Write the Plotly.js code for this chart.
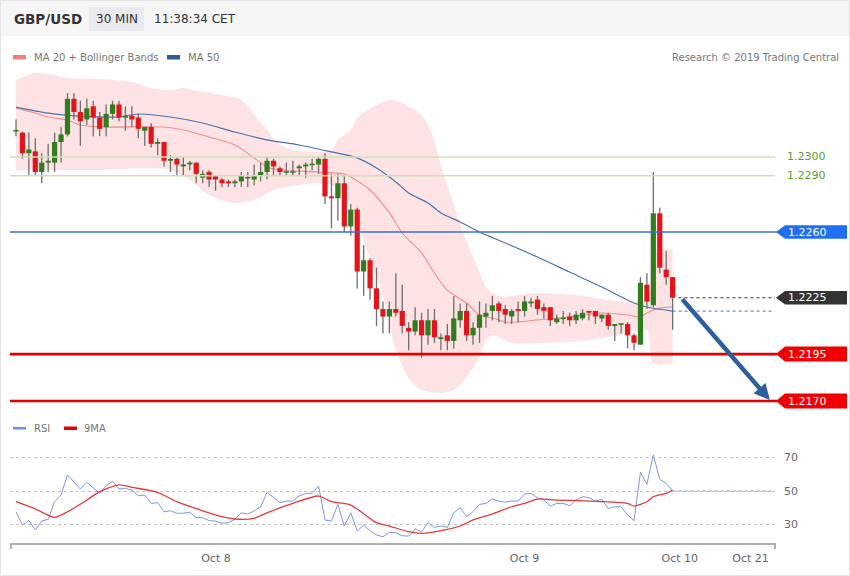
<!DOCTYPE html>
<html><head><meta charset="utf-8">
<script src="https://cdn.plot.ly/plotly-3.0.1.min.js"></script>
<style>html,body{margin:0;padding:0;background:#fff;}#chart{width:850px;height:576px;}</style>
</head><body><div id="chart"></div>
<script>
// ---------------- DATA ----------------
const openP  = [1.23138,1.2313,1.2302,1.2303,1.2292,1.2297,1.2297,1.2308,1.2312,1.2331,
1.2324,1.2320,1.2327,1.2321,1.2316,1.2323,1.2328,1.2321,1.2322,1.2321,
1.2314,1.2316,1.2307,1.2308,1.2298,1.2299,1.2295,1.2296,1.2297,1.2289,
1.2292,1.2290,1.2288,1.2287,1.2286,1.2287,1.2289,1.2288,1.2290,1.2292,
1.2298,1.2294,1.2292,1.2292,1.2294,1.2295,1.2296,1.2296,1.2299,1.2279,
1.2278,1.2286,1.2263,1.2272,1.2239,1.2245,1.2230,1.2219,1.2215,1.2219,
1.2218,1.2209,1.2207,1.2213,1.2205,1.2213,1.2203,1.2205,1.2202,1.2213,
1.2218,1.2205,1.2209,1.2215,1.2218,1.2222,1.2219,1.2215,1.2219,1.2218,
1.2222,1.2224,1.2220,1.2220,1.2212,1.2214,1.2215,1.2213,1.2214,1.2218,
1.2218,1.2214,1.2216,1.2210,1.2211,1.2211,1.2205,1.2200,1.2232,1.2221,
1.2270,1.2240,1.2236];
const highP  = [1.2320,1.23135,1.2313,1.2310,1.2302,1.2307,1.2313,1.2316,1.2334,1.2334,
1.2330,1.2331,1.2330,1.2324,1.2328,1.2330,1.2330,1.2327,1.2327,1.2323,
1.2316,1.2318,1.2310,1.2308,1.2301,1.2300,1.2300,1.2298,1.2297,1.2293,
1.2293,1.2290,1.2289,1.2288,1.2288,1.2292,1.2292,1.2296,1.2297,1.2300,
1.2299,1.2295,1.2297,1.2298,1.2296,1.2297,1.2299,1.2300,1.2302,1.2291,
1.2291,1.2290,1.2275,1.2273,1.2253,1.2246,1.2241,1.2223,1.2223,1.2238,
1.2232,1.2212,1.2220,1.2217,1.2219,1.2219,1.2206,1.2211,1.2226,1.2222,
1.2222,1.2212,1.2223,1.2222,1.2226,1.2223,1.2221,1.2219,1.2223,1.2226,
1.2225,1.2226,1.2222,1.2220,1.2216,1.2218,1.2217,1.2218,1.2219,1.2218,
1.2218,1.2216,1.2217,1.2211,1.2211,1.2212,1.2206,1.2236,1.2238,1.2292,
1.2273,1.2250,1.2236];
const lowP   = [1.2311,1.2299,1.2290,1.2290,1.2286,1.2292,1.2292,1.2297,1.2311,1.2320,
1.2306,1.2317,1.2311,1.2311,1.2311,1.2320,1.2319,1.2314,1.2316,1.2310,
1.2306,1.2305,1.2301,1.2295,1.2292,1.2290,1.2290,1.2293,1.2286,1.2286,
1.2284,1.2282,1.2284,1.2284,1.2284,1.2284,1.2284,1.2285,1.2287,1.2288,
1.2290,1.2290,1.2290,1.2290,1.2290,1.2289,1.2293,1.2291,1.2275,1.2262,
1.2266,1.2260,1.2258,1.2230,1.2226,1.2224,1.2210,1.2206,1.2206,1.2215,
1.2206,1.2197,1.2205,1.2193,1.2200,1.2201,1.2197,1.2197,1.2198,1.2209,
1.2202,1.2200,1.2201,1.2209,1.2213,1.2212,1.2211,1.2211,1.2212,1.2215,
1.2220,1.2216,1.2214,1.2210,1.2211,1.2211,1.2210,1.2211,1.2213,1.2213,
1.2211,1.2212,1.2208,1.2202,1.2206,1.2198,1.2197,1.2200,1.2219,1.2220,
1.2238,1.2232,1.2208];
const closeP = [1.23142,1.2302,1.2304,1.2292,1.2297,1.2298,1.2308,1.2312,1.2331,1.2324,
1.2319,1.2326,1.2321,1.2315,1.2323,1.2328,1.2321,1.2322,1.2320,1.2315,
1.2316,1.2307,1.2308,1.2298,1.2299,1.2296,1.2296,1.2297,1.2291,1.2291,
1.2288,1.2288,1.2286,1.2286,1.2287,1.2290,1.2289,1.2290,1.2292,1.2298,
1.2295,1.2292,1.2292,1.2292,1.2295,1.2296,1.2296,1.2299,1.2279,1.2278,
1.2286,1.2263,1.2272,1.2239,1.2245,1.2230,1.2219,1.2215,1.2219,1.2217,
1.2210,1.2207,1.2213,1.2205,1.2213,1.2204,1.2204,1.2202,1.2214,1.2218,
1.2205,1.2209,1.2216,1.2217,1.2221,1.2218,1.2216,1.2218,1.2218,1.2223,
1.2223,1.2219,1.2218,1.2213,1.2214,1.2214,1.2213,1.2216,1.2217,1.2217,
1.2215,1.2216,1.2210,1.2211,1.2211,1.2205,1.2201,1.2233,1.2223,1.2270,
1.2241,1.2236,1.2225];

const bbUpperIdx = [0,3,5,8,13,18,21,24,26,29,32,35,37,39,41,43,46,49,50,52,53,56,58,60,63,64,65,66,68,70,72,73,75,81,88,92,98,99,102];
const bbUpper    = [1.23410,1.23448,1.23442,1.23421,1.23416,1.23400,1.23368,1.23357,1.23368,1.23346,1.23330,1.23304,1.23224,1.23144,1.23064,1.23037,1.23027,1.23037,1.23091,1.23144,1.23208,1.23277,1.23304,1.23288,1.23224,1.23171,1.23080,1.22957,1.22744,1.22547,1.22387,1.22307,1.22259,1.22275,1.22259,1.22238,1.22238,1.22504,1.22504];
const bbLowerIdx = [0,7,13,21,24,27,30,34,37,40,44,47,49,52,54,55,57,59,61,63,66,68,70,72,73,74,77,81,86,91,95,98,99,102];
const bbLower    = [1.22931,1.22931,1.22931,1.22941,1.22931,1.22877,1.22798,1.22755,1.22771,1.22824,1.22851,1.22861,1.22851,1.22744,1.22558,1.22462,1.22265,1.21972,1.21823,1.21759,1.21743,1.21759,1.21828,1.21934,1.22025,1.22052,1.22009,1.22009,1.22014,1.22036,1.22062,1.22078,1.21902,1.21902];

const ma20Idx = [0,3,5,8,10,13,23,26,30,34,37,39,41,47,51,52,55,58,60,63,65,67,70,72,74,76,78,81,86,91,95,97,98,100,102];
const ma20    = [1.23261,1.23234,1.23213,1.23197,1.23170,1.23160,1.23160,1.23144,1.23107,1.23064,1.22995,1.22947,1.22931,1.22920,1.22909,1.22893,1.22824,1.22702,1.22595,1.22489,1.22382,1.22291,1.22222,1.22158,1.22142,1.22121,1.22121,1.22132,1.22148,1.22169,1.22158,1.22148,1.22169,1.22195,1.22201];

const ma50Idx = [0,5,10,16,19,24,29,34,39,44,49,53,56,59,61,64,66,69,72,76,81,86,91,96,98,102];
const ma50    = [1.23266,1.23234,1.23218,1.23213,1.23229,1.23213,1.23181,1.23133,1.23091,1.23064,1.23027,1.22995,1.22941,1.22867,1.22808,1.22755,1.22702,1.22654,1.22600,1.22542,1.22467,1.22387,1.22307,1.22222,1.22201,1.22179];

const rsi = [37.6,29.7,32.3,26.7,32.1,33.1,43.6,47.6,59.6,55.6,
51.2,55.2,51.6,48.6,53.2,55.8,51.2,51.6,50.6,47.2,
47.6,42.6,43.0,37.6,38.2,36.7,36.7,37.3,34.1,34.1,
32.3,32.1,30.7,31.1,33.1,37.0,36.3,38.1,40.6,49.2,
46.2,43.0,44.0,44.0,47.0,48.6,48.6,53.0,32.7,32.1,
42.0,29.1,37.0,26.1,29.7,26.3,23.7,22.7,25.3,25.1,
23.3,23.1,27.3,25.7,31.1,28.3,29.1,28.3,37.0,40.0,
34.7,37.6,42.0,42.6,45.2,44.0,43.3,44.0,44.0,48.2,
48.6,46.0,44.6,41.0,42.6,42.6,41.2,44.6,46.6,46.0,
44.0,45.0,39.6,40.6,40.6,35.7,32.3,61.2,54.0,71.5,
57.0,54.6,50.0];
const ma9Idx = [0,3,6,8,11,13,16,18,22,25,29,32,34,37,39,43,47,49,52,56,58,61,63,67,69,71,74,77,79,81,84,89,95,96,98,99,101,102];
const rsiMa9 = [43.6,39.3,34.3,37.6,44.6,49.6,53.6,52.2,49.2,43.6,38.2,34.7,33.3,33.7,37.0,42.6,47.0,43.6,41.6,31.1,29.1,25.7,24.7,27.1,29.1,32.7,36.3,40.6,42.6,45.2,44.6,44.0,42.6,41.0,43.6,46.6,48.6,50.6];

const tickPos    = [31.06, 79.0, 103.1, 114.1];
const tickLabels = ['Oct 8','Oct 9','Oct 10','Oct 21'];

const levelValues = [1.2300, 1.2290, 1.2260, 1.2225, 1.2195, 1.2170];
const levelLabels = ['1.2300','1.2290','1.2260','1.2225','1.2195','1.2170'];
const levelKinds  = ['resist','resist','pivot','last','support','support'];

// ---------------- LAYOUT HELPERS ----------------
const W = 850, H = 576;
const px = x => x / W;
const py = y => 1 - y / H;
const FONT = 'DejaVu Sans, sans-serif';
const xRange = [-0.93, 117.9];
const idx = openP.map((_, i) => i);
const lastI = idx[idx.length - 1];
const pricePerPx = 1 / 18770;

// wicks
const wx = [], wy = [];
idx.forEach(i => { wx.push(i, i, null); wy.push(lowP[i], highP[i], null); });
// bodies (drawn as thick vertical segments so they sit above the band fill)
const minBody = 1.6 * pricePerPx;
const upX = [], upY = [], dnX = [], dnY = [];
idx.forEach(i => {
  const o = openP[i], c = closeP[i];
  let lo = Math.min(o, c), hi = Math.max(o, c);
  if (hi - lo < minBody) { const m = (o + c) / 2; lo = m - minBody / 2; hi = m + minBody / 2; }
  if (c >= o) { upX.push(i, i, null); upY.push(lo, hi, null); }
  else { dnX.push(i, i, null); dnY.push(lo, hi, null); }
});

const traces = [
  {x: bbLowerIdx, y: bbLower, type: 'scatter', mode: 'lines', line: {width: 0, shape: 'spline', smoothing: 0.8}, hoverinfo: 'skip', showlegend: false},
  {x: bbUpperIdx, y: bbUpper, type: 'scatter', mode: 'lines', line: {width: 0, shape: 'spline', smoothing: 0.8}, fill: 'tonexty', fillcolor: '#fde3e3', hoverinfo: 'skip', showlegend: false},
  {x: ma20Idx, y: ma20, type: 'scatter', mode: 'lines', line: {color: '#f28c8c', width: 1.1, shape: 'spline', smoothing: 0.8}, showlegend: false},
  {x: ma50Idx, y: ma50, type: 'scatter', mode: 'lines', line: {color: '#4a72ad', width: 1.2, shape: 'spline', smoothing: 0.8}, showlegend: false},
  {x: wx, y: wy, type: 'scatter', mode: 'lines', line: {color: '#6e6e6e', width: 1.3}, connectgaps: false, showlegend: false},
  {x: upX, y: upY, type: 'scatter', mode: 'lines', line: {color: '#2f7d1f', width: 5.2}, connectgaps: false, showlegend: false},
  {x: dnX, y: dnY, type: 'scatter', mode: 'lines', line: {color: '#e3151b', width: 5.2}, connectgaps: false, showlegend: false},
  {x: idx, y: rsi, xaxis: 'x2', yaxis: 'y2', type: 'scatter', mode: 'lines', line: {color: '#7f97dc', width: 1}, showlegend: false},
  {x: ma9Idx, y: rsiMa9, xaxis: 'x2', yaxis: 'y2', type: 'scatter', mode: 'lines', line: {color: '#e23b3b', width: 1.3, shape: 'spline', smoothing: 0.7}, showlegend: false}
];

const shapes = [];
const ann = [];
// header
shapes.push({type: 'rect', xref: 'paper', yref: 'paper', x0: 0, x1: 1, y0: py(36), y1: 1, fillcolor: '#f6f6f7', line: {width: 0}, layer: 'below'});
shapes.push({type: 'rect', xref: 'paper', yref: 'paper', x0: px(89), x1: px(144), y0: py(31), y1: py(7), fillcolor: '#e9eaed', line: {width: 0}, layer: 'below'});
shapes.push({type: 'rect', xref: 'paper', yref: 'paper', x0: px(0.5), x1: px(849.5), y0: py(575.5), y1: py(0.5), line: {color: '#e4e4e4', width: 1}});
// legends
shapes.push({type: 'rect', xref: 'paper', yref: 'paper', x0: px(13), x1: px(26), y0: py(59.5), y1: py(55), fillcolor: '#f27f7f', line: {width: 0}});
shapes.push({type: 'rect', xref: 'paper', yref: 'paper', x0: px(167), x1: px(180), y0: py(59.5), y1: py(55), fillcolor: '#2f5a98', line: {width: 0}});
shapes.push({type: 'rect', xref: 'paper', yref: 'paper', x0: px(13), x1: px(26), y0: py(429.5), y1: py(427), fillcolor: '#6f8fe0', line: {width: 0}});
shapes.push({type: 'rect', xref: 'paper', yref: 'paper', x0: px(64), x1: px(77), y0: py(430), y1: py(426.5), fillcolor: '#e80000', line: {width: 0}});

// level lines + labels
const xL = px(10), xE = px(775);
levelValues.forEach((lv, k) => {
  const kind = levelKinds[k];
  let h = 6.7 * pricePerPx;
  if (kind === 'resist') {
    shapes.push({type: 'line', xref: 'paper', yref: 'y', x0: xL, x1: xE, y0: lv, y1: lv, line: {color: '#c9e2b8', width: 1.6}});
    ann.push({xref: 'paper', yref: 'y', x: px(785), y: lv, text: levelLabels[k], showarrow: false, xanchor: 'left', yanchor: 'middle', font: {family: FONT, size: 11, color: '#5b9e33'}});
    return;
  }
  let fill = '#1f6ff0';
  if (kind === 'pivot') {
    shapes.push({type: 'line', xref: 'paper', yref: 'y', x0: xL, x1: px(777), y0: lv, y1: lv, line: {color: '#3a6fd6', width: 1.5}});
  } else if (kind === 'last') {
    fill = '#333333';
    shapes.push({type: 'line', xref: 'x', yref: 'y', x0: lastI + 0.9, x1: xRange[1], y0: lv, y1: lv, line: {color: '#333', width: 1, dash: 'dot'}});
  } else {
    fill = '#f00000'; h = 7.5 * pricePerPx;
    shapes.push({type: 'line', xref: 'paper', yref: 'y', x0: xL, x1: px(777), y0: lv, y1: lv, line: {color: '#e80000', width: 2.6}});
  }
  const a = px(776), b = px(785), c = px(847);
  shapes.push({type: 'path', xref: 'paper', yref: 'y', path: `M ${a},${lv} L ${b},${lv + h} L ${c},${lv + h} L ${c},${lv - h} L ${b},${lv - h} Z`, fillcolor: fill, line: {width: 0}});
  ann.push({xref: 'paper', yref: 'y', x: px(786), y: lv, text: levelLabels[k], showarrow: false, xanchor: 'left', yanchor: 'middle', font: {family: FONT, size: 11, color: '#ffffff'}});
});
// MA50 dotted continuation
shapes.push({type: 'line', xref: 'x', yref: 'y', x0: lastI, x1: xRange[1], y0: ma50[ma50.length - 1], y1: ma50[ma50.length - 1], line: {color: '#4a72ad', width: 1, dash: 'dot'}});
// RSI dotted continuation
shapes.push({type: 'line', xref: 'x2', yref: 'y2', x0: lastI, x1: xRange[1], y0: rsi[rsi.length - 1], y1: rsi[rsi.length - 1], line: {color: '#7f97dc', width: 1.2, dash: 'dot'}});
// axis end ticks
shapes.push({type: 'line', xref: 'paper', yref: 'paper', x0: px(11), x1: px(11), y0: py(543), y1: py(549), line: {color: '#b0b0b0', width: 2}});
shapes.push({type: 'line', xref: 'paper', yref: 'paper', x0: px(775), x1: px(775), y0: py(543), y1: py(549), line: {color: '#b0b0b0', width: 2}});

// forecast arrow
ann.push({xref: 'x', yref: 'y', axref: 'x', ayref: 'y', x: xRange[1] - 0.8, y: levelValues[5] + 0.00005, ax: lastI + 1.3, ay: closeP[lastI], text: '', showarrow: true, arrowhead: 2, arrowsize: 0.7, arrowwidth: 4.5, arrowcolor: '#2d5e9f'});

// texts
ann.push({xref: 'paper', yref: 'paper', x: px(12), y: py(19), text: '<b>GBP/USD</b>', showarrow: false, xanchor: 'left', yanchor: 'middle', font: {family: FONT, size: 13.5, color: '#333'}});
ann.push({xref: 'paper', yref: 'paper', x: px(116.5), y: py(19), text: '30 MIN', showarrow: false, xanchor: 'center', yanchor: 'middle', font: {family: FONT, size: 12, color: '#333'}});
ann.push({xref: 'paper', yref: 'paper', x: px(152), y: py(19), text: '11:38:34 CET', showarrow: false, xanchor: 'left', yanchor: 'middle', font: {family: FONT, size: 12, color: '#333'}});
ann.push({xref: 'paper', yref: 'paper', x: px(32), y: py(57.5), text: 'MA 20 + Bollinger Bands', showarrow: false, xanchor: 'left', yanchor: 'middle', font: {family: FONT, size: 10, color: '#777'}});
ann.push({xref: 'paper', yref: 'paper', x: px(186), y: py(57.5), text: 'MA 50', showarrow: false, xanchor: 'left', yanchor: 'middle', font: {family: FONT, size: 10, color: '#777'}});
ann.push({xref: 'paper', yref: 'paper', x: px(841), y: py(57.5), text: 'Research © 2019 Trading Central', showarrow: false, xanchor: 'right', yanchor: 'middle', font: {family: FONT, size: 10, color: '#777'}});
ann.push({xref: 'paper', yref: 'paper', x: px(32), y: py(428.5), text: 'RSI', showarrow: false, xanchor: 'left', yanchor: 'middle', font: {family: FONT, size: 10, color: '#777'}});
ann.push({xref: 'paper', yref: 'paper', x: px(82), y: py(428.5), text: '9MA', showarrow: false, xanchor: 'left', yanchor: 'middle', font: {family: FONT, size: 10, color: '#777'}});

const layout = {
  width: W, height: H,
  margin: {l: 0, r: 0, t: 0, b: 0, pad: 0},
  paper_bgcolor: '#ffffff', plot_bgcolor: 'rgba(0,0,0,0)',
  font: {family: FONT, color: '#666'},
  showlegend: false,
  xaxis: {domain: [px(10), px(775)], range: xRange, visible: false, fixedrange: true},
  yaxis: {domain: [py(420), py(65)], range: [1.215988, 1.234901], visible: false, fixedrange: true},
  xaxis2: {domain: [px(10), px(775)], range: xRange, anchor: 'y2', showline: true, linecolor: '#b0b0b0', linewidth: 2,
           showgrid: false, zeroline: false, tickmode: 'array', tickvals: tickPos, ticktext: tickLabels, ticks: '',
           tickfont: {family: FONT, size: 11, color: '#666'}, ticklabelstandoff: 4},
  yaxis2: {domain: [py(543), py(445)], range: [18.96, 77.46], anchor: 'x2', side: 'right', tickmode: 'array', tickvals: [30, 50, 70],
           showgrid: true, gridcolor: '#c4c4c4', griddash: 'dot', gridwidth: 1, zeroline: false, showline: false, ticks: '',
           tickfont: {family: FONT, size: 11, color: '#666'}, ticklabelstandoff: 8},
  shapes: shapes,
  annotations: ann
};
Plotly.newPlot('chart', traces, layout, {staticPlot: true, displayModeBar: false});
</script></body></html>
